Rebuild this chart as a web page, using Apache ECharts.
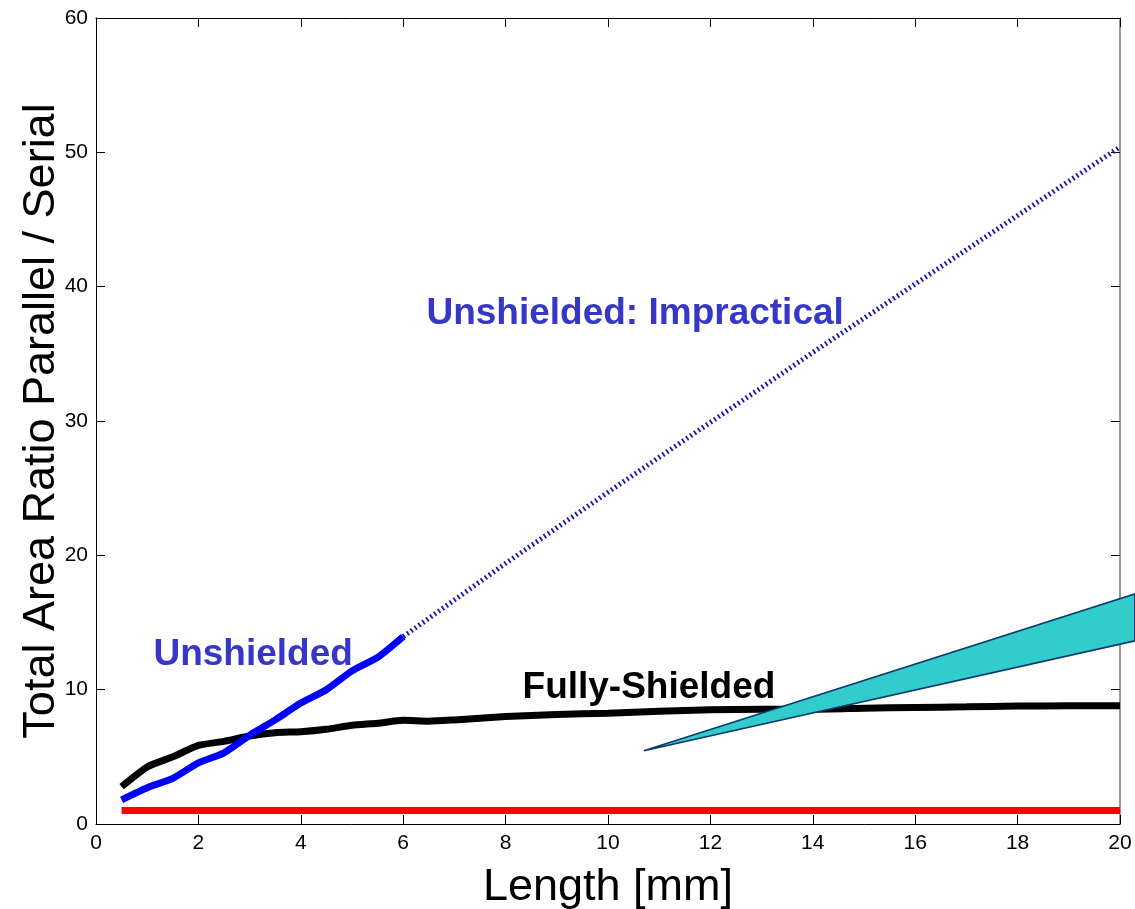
<!DOCTYPE html>
<html>
<head>
<meta charset="utf-8">
<script src="https://cdn.jsdelivr.net/npm/echarts@6/dist/echarts.min.js"></script>
<style>
html,body{margin:0;padding:0;background:#fff;}
#c{width:1135px;height:909px;}
</style>
</head>
<body>
<div id="c"></div>
<script>
// ---- data ----
const xTicks = [0,2,4,6,8,10,12,14,16,18,20];
const yTicks = [0,10,20,30,40,50,60];

const fullyShieldedX = [0.5,1,1.5,2,2.5,3,3.5,4,4.5,5,5.5,6,6.5,7,8,9,10,11,12,13,14,15,16,17,18,19,20];
const fullyShieldedY = [2.78,4.25,5.0,5.85,6.15,6.55,6.8,6.87,7.05,7.35,7.5,7.72,7.65,7.75,8.0,8.15,8.25,8.4,8.5,8.55,8.55,8.62,8.68,8.72,8.78,8.8,8.8];

const unshieldedX = [0.5,1,1.5,2,2.5,3,3.5,4,4.5,5,5.5,6];
const unshieldedY = [1.8,2.7,3.4,4.55,5.3,6.6,7.75,9.0,10.0,11.4,12.4,13.95];

const impracticalX = [6,8,10,12,14,16,18,20];
const impracticalY = [13.95,19.4,24.7,29.9,35.1,40.2,45.3,50.4];

const serialX = [0.5,20];
const serialY = [1,1];

// wedge annotation corners (data units)
const wedgeX = [10.7,20.29,20.29];
const wedgeY = [5.45,17.13,13.63];

const labelTexts = ['Unshielded','Unshielded: Impractical','Fully-Shielded'];
const labelX = [3.07,10.53,10.8];
const labelY = [12.6,38.0,10.15];

const zip = (xs, ys) => xs.map((x,i)=>[x, ys[i]]);
const FONT = '"Liberation Sans", Arial, sans-serif';

const chart = echarts.init(document.getElementById('c'), null, {renderer:'canvas'});

function tick(){ return {show:true, inside:true, length:9, lineStyle:{color:'#000', width:1}}; }

const option = {
  backgroundColor:'#fff',
  animation:false,
  grid:{left:96, right:15, top:18, bottom:85, containLabel:false, outerBoundsMode:'none'},
  xAxis:[
    {
      type:'value', position:'bottom', min:0, max:20, interval:2,
      axisLine:{show:true, onZero:false, lineStyle:{color:'#000', width:1}},
      axisTick:tick(), splitLine:{show:false},
      axisLabel:{fontFamily:FONT, fontSize:21, color:'#000', margin:9},
      name:'Length [mm]', nameLocation:'middle', nameGap:41, nameMoveOverlap:false,
      nameTextStyle:{fontFamily:FONT, fontSize:45, color:'#000'}
    },
    {
      type:'value', position:'top', min:0, max:20, interval:2,
      axisLine:{show:true, onZero:false, lineStyle:{color:'#000', width:1}},
      axisTick:tick(), splitLine:{show:false},
      axisLabel:{show:false}
    }
  ],
  yAxis:[
    {
      type:'value', position:'left', min:0, max:60, interval:10,
      axisLine:{show:true, onZero:false, lineStyle:{color:'#000', width:1}},
      axisTick:tick(), splitLine:{show:false},
      axisLabel:{fontFamily:FONT, fontSize:21, color:'#000', margin:8},
      name:'Total Area Ratio Parallel / Serial', nameLocation:'middle', nameGap:32, nameMoveOverlap:false,
      nameTextStyle:{fontFamily:FONT, fontSize:45, color:'#000'}
    },
    {
      type:'value', position:'right', min:0, max:60, interval:10,
      axisLine:{show:true, onZero:false, lineStyle:{color:'#777', width:1.5}},
      axisTick:tick(), splitLine:{show:false},
      axisLabel:{show:false}
    }
  ],
  series:[
    {
      type:'line', name:'Serial', data:zip(serialX, serialY),
      showSymbol:false, symbol:'none',
      lineStyle:{color:'#ff0000', width:7, cap:'butt'}, z:2
    },
    {
      type:'line', name:'Unshielded: Impractical', data:zip(impracticalX, impracticalY),
      showSymbol:false, symbol:'none',
      lineStyle:{color:'#1a1aa8', width:5, type:[1.8,3], cap:'butt'}, z:3
    },
    {
      type:'line', name:'Fully-Shielded', data:zip(fullyShieldedX, fullyShieldedY),
      showSymbol:false, symbol:'none', smooth:0.2,
      lineStyle:{color:'#000', width:7, cap:'butt'}, z:4
    },
    {
      type:'line', name:'Unshielded', data:zip(unshieldedX, unshieldedY),
      showSymbol:false, symbol:'none', smooth:0.2,
      lineStyle:{color:'#0000ff', width:7, cap:'butt'}, z:5
    },
    {
      type:'custom', name:'wedge', clip:false, z:6,
      data:[[0]],
      renderItem:function(params, api){
        const pts = wedgeX.map((x,i)=>api.coord([x, wedgeY[i]]));
        return {
          type:'polygon',
          shape:{points:pts},
          style:{fill:'#33cccc', stroke:'#0a3a6e', lineWidth:1.6}
        };
      }
    }
  ]
};
chart.setOption(option);

const labelColors = ['#3636c8','#3636c8','#000'];
const graphics = labelTexts.map((t,i)=>{
  const p = chart.convertToPixel({gridIndex:0}, [labelX[i], labelY[i]]);
  return {
    type:'text', x:p[0], y:p[1], z:100,
    style:{text:t, fill:labelColors[i], font:'bold 37px ' + FONT, textAlign:'center', textVerticalAlign:'middle'}
  };
});
chart.setOption({graphic:graphics});
</script>
</body>
</html>
